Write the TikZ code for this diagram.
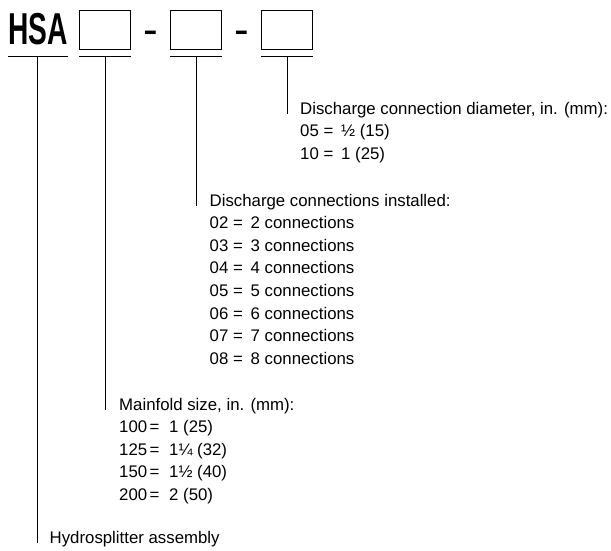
\documentclass[tikz,border=0pt]{standalone}
\usepackage{fontspec}
\setmainfont{Liberation Sans}
\newfontfamily\hsafont[FakeStretch=0.63]{Liberation Sans}

% code = value line, code column and "=" column widths
\NewDocumentCommand{\entry}{O{23.5pt} O{17.5pt} m m}{%
  \makebox[#1][l]{#3}\makebox[#2][l]{=}#4}

\tikzset{
  codebox/.style={draw, line width=1pt, minimum width=51pt, minimum height=39pt, inner sep=0pt},
  dashsign/.style={anchor=base, inner sep=0pt, font=\fontsize{44pt}{44pt}\selectfont},
  legend/.style={anchor=base west, align=left, inner sep=0pt, font=\fontsize{16.8pt}{22.6pt}\selectfont},
  lead/.style={line width=1pt},
}

\begin{document}
\begin{tikzpicture}[x=1pt, y=-1pt]
    \useasboundingbox (0,0) rectangle (611,550);

    % --- Nodes ---

    % 1. Model code (top row)
    \node[anchor=base west, inner sep=0pt, font=\fontsize{44.7pt}{44.7pt}\hsafont\bfseries] (hsa) at (8,44) {HSA};
    \node[codebox] (size) at (105,30) {};
    \node[dashsign] (dash1) at (150.5,44) {-};
    \node[codebox] (conn) at (196,30) {};
    \node[dashsign] (dash2) at (241.5,44) {-};
    \node[codebox] (dia) at (287,30) {};

    % 2. Legend headings (baseline = end of the leader)
    \node[legend] (diahead) at (300,114) {Discharge connection diameter, in. (mm):};
    \node[legend] (connhead) at (209.5,206) {Discharge connections installed:};
    \node[legend] (sizehead) at (119,410) {Mainfold size, in. (mm):};
    \node[legend] (hsahead) at (49.5,543) {Hydrosplitter assembly};

    % 3. Legend entries (placed by their last baseline)
    \node[legend] (dialist) at (300,159.2) {
        \entry{05}{½ (15)}\\
        \entry{10}{1 (25)}
    };
    \node[legend] (connlist) at (209.5,364.2) {
        \entry{02}{2 connections}\\
        \entry{03}{3 connections}\\
        \entry{04}{4 connections}\\
        \entry{05}{5 connections}\\
        \entry{06}{6 connections}\\
        \entry{07}{7 connections}\\
        \entry{08}{8 connections}
    };
    \node[legend] (sizelist) at (119,500.4) {
        \entry[30.5pt][19.5pt]{100}{1 (25)}\\
        \entry[30.5pt][19.5pt]{125}{1¼ (32)}\\
        \entry[30.5pt][19.5pt]{150}{1½ (40)}\\
        \entry[30.5pt][19.5pt]{200}{2 (50)}
    };

    % --- Lines ---

    % Underlines
    \draw[lead] ([yshift=-12pt]hsa.base west) -- ([yshift=-12pt]hsa.base east);
    \draw[lead] ([yshift=-6.5pt]size.south west) -- ([yshift=-6.5pt]size.south east);
    \draw[lead] ([yshift=-6.5pt]conn.south west) -- ([yshift=-6.5pt]conn.south east);
    \draw[lead] ([yshift=-6.5pt]dia.south west) -- ([yshift=-6.5pt]dia.south east);

    % Leaders down to each heading
    \draw[lead] ([yshift=-6.5pt]dia.south) -- (dia.south |- diahead.base west);
    \draw[lead] ([yshift=-6.5pt]conn.south) -- (conn.south |- connhead.base west);
    \draw[lead] ([yshift=-6.5pt]size.south) -- (size.south |- sizehead.base west);
    \draw[lead] ([yshift=-12pt]hsa.base) -- (hsa.base |- hsahead.base west);

\end{tikzpicture}
\end{document}
